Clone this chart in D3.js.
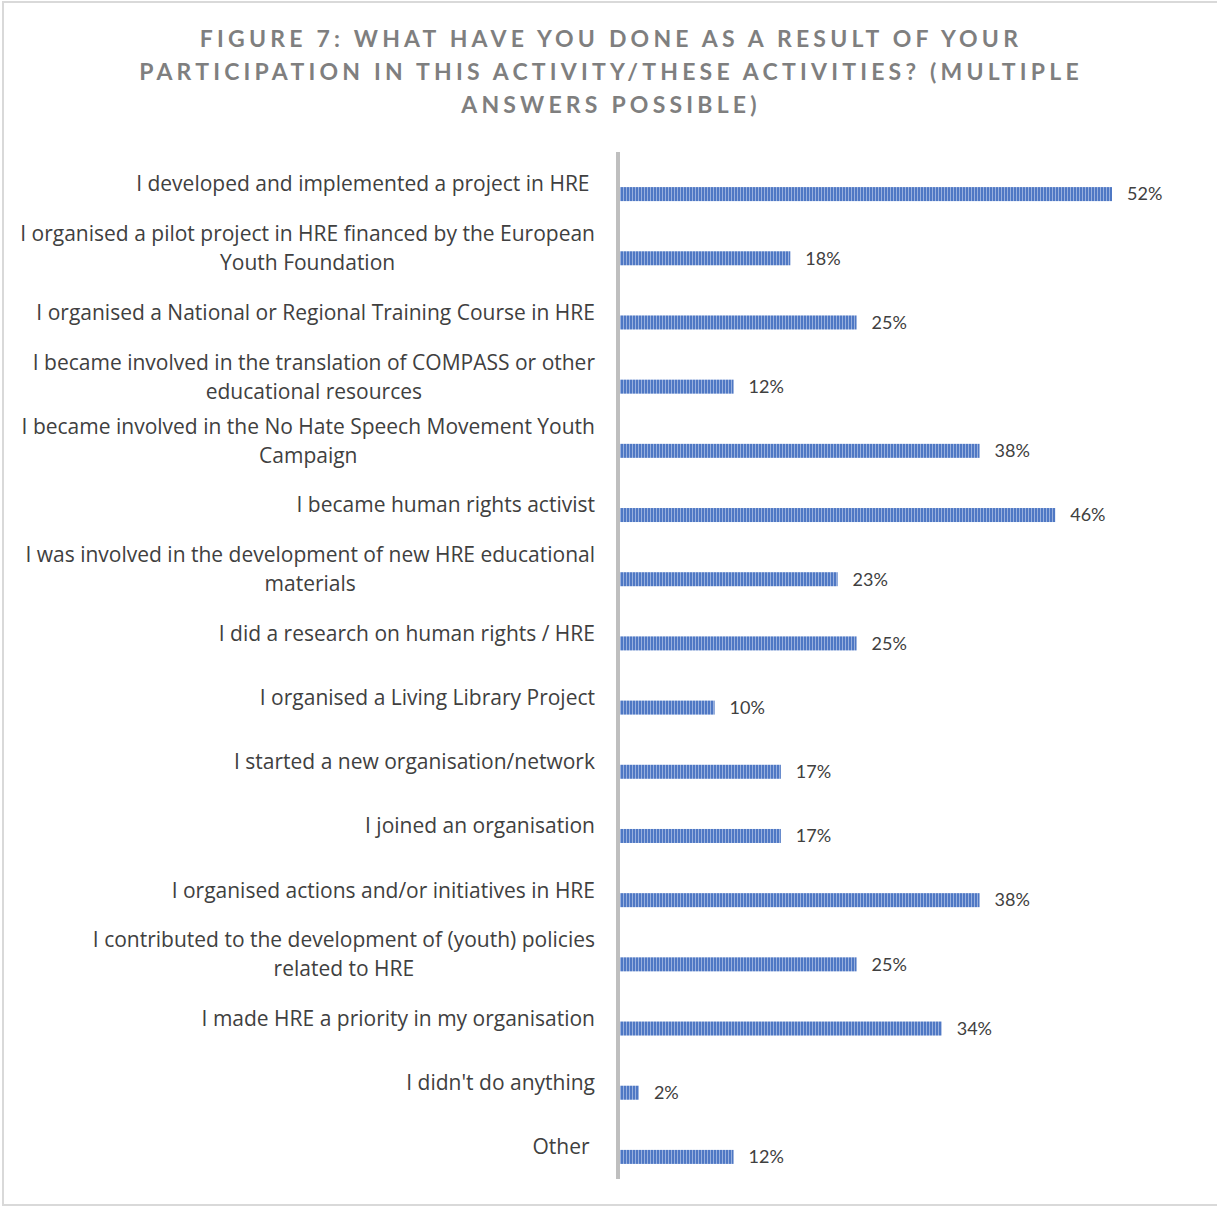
<!DOCTYPE html>
<html>
<head>
<meta charset="utf-8">
<script src="https://cdn.jsdelivr.net/npm/d3@7"></script>
<style>
  body { margin: 0; background: #fff; }
  text { font-family: Lato, "Open Sans", sans-serif; }
</style>
</head>
<body>
<div id="chart"></div>
<script>
// Category labels (line breaks as in the original)
const categories = [
    ["I developed and implemented a project in HRE "],
    ["I organised a pilot project in HRE financed by the European", "Youth Foundation"],
    ["I organised a National or Regional Training Course in HRE"],
    ["I became involved in the translation of COMPASS or other", "educational resources"],
    ["I became involved in the No Hate Speech Movement Youth", "Campaign"],
    ["I became human rights activist"],
    ["I was involved in the development of new HRE educational", "materials"],
    ["I did a research on human rights / HRE"],
    ["I organised a Living Library Project"],
    ["I started a new organisation/network"],
    ["I joined an organisation"],
    ["I organised actions and/or initiatives in HRE"],
    ["I contributed to the development of (youth) policies", "related to HRE"],
    ["I made HRE a priority in my organisation"],
    ["I didn't do anything"],
    ["Other "]
];
const values = [52, 18, 25, 12, 38, 46, 23, 25, 10, 17, 17, 38, 25, 34, 2, 12];
const titleLines = [
    "FIGURE 7: WHAT HAVE YOU DONE AS A RESULT OF YOUR",
    "PARTICIPATION IN THIS ACTIVITY/THESE ACTIVITIES? (MULTIPLE",
    "ANSWERS POSSIBLE)"
];

const W = 1217, H = 1207;
const svg = d3.select("#chart").append("svg")
    .attr("width", W)
    .attr("height", H);

// striped bar fill
const defs = svg.append("defs");
const pat = defs.append("pattern")
    .attr("id", "stripes")
    .attr("patternUnits", "userSpaceOnUse")
    .attr("width", 3)
    .attr("height", 10);
pat.append("rect").attr("width", 3).attr("height", 10).attr("fill", "#4f78c4");
pat.append("rect").attr("x", 2).attr("width", 1).attr("height", 10).attr("fill", "#98b0de");

// outer frame
svg.append("rect")
    .attr("x", 3).attr("y", 2)
    .attr("width", W + 10).attr("height", H - 4)
    .attr("fill", "none")
    .attr("stroke", "#d9d9d9")
    .attr("stroke-width", 2);

// title
svg.append("g").selectAll("text")
    .data(titleLines)
    .join("text")
    .attr("x", 611)
    .attr("y", (d, i) => 47 + i * 33)
    .attr("text-anchor", "middle")
    .attr("fill", "#7f7f7f")
    .style("font-size", "23px")
    .style("font-weight", "bold")
    .style("letter-spacing", "4.2px")
    .text(d => d);

// scales
const x0 = 620;
const x = d3.scaleLinear().domain([0, 52]).range([x0, 1112]);
const y = d3.scaleBand().domain(d3.range(values.length)).range([152, 1179]);

// bars
svg.append("g").selectAll("rect")
    .data(values)
    .join("rect")
    .attr("x", x(0))
    .attr("y", (d, i) => y(i) + y.bandwidth() / 2 + 3)
    .attr("width", d => x(d) - x(0))
    .attr("height", 14)
    .attr("fill", "url(#stripes)");

// value labels
svg.append("g").selectAll("text")
    .data(values)
    .join("text")
    .attr("x", d => x(d) + 15)
    .attr("y", (d, i) => y(i) + y.bandwidth() / 2 + 10)
    .attr("dy", "0.35em")
    .attr("fill", "#404040")
    .style("font-size", "18px")
    .text(d => d + "%");

// category labels: right-aligned block, lines centred inside
const lineH = 29;
const labelRight = 595;
const labels = svg.append("g");
categories.forEach((lines, i) => {
    const g = labels.append("g");
    const cy = y(i) + y.bandwidth() / 2;
    const top = cy - (lines.length - 1) * lineH / 2;
    const texts = lines.map((l, j) => g.append("text")
        .attr("y", top + j * lineH)
        .attr("dy", "0.35em")
        .attr("fill", "#404040")
        .attr("text-anchor", "middle")
        .style("font-family", "'Open Sans', sans-serif")
        .style("font-size", "21px")
        .style("white-space", "pre")
        .text(l));
    const maxW = d3.max(texts, t => t.node().getComputedTextLength());
    texts.forEach(t => t.attr("x", labelRight - maxW / 2));
});

// vertical axis line
svg.append("line")
    .attr("x1", 618).attr("x2", 618)
    .attr("y1", 152).attr("y2", 1179)
    .attr("stroke", "#bfbfbf")
    .attr("stroke-width", 4);
</script>
</body>
</html>
